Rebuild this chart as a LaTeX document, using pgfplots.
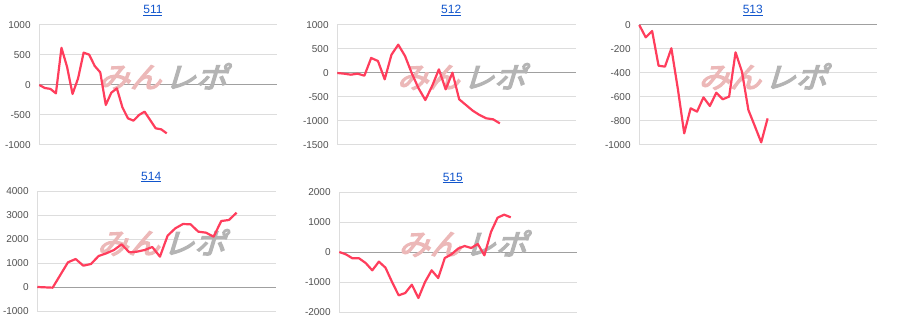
\documentclass[border=0pt]{standalone}
\usepackage{pgfplots}
\pgfplotsset{compat=1.18}
\usepackage{fontspec}
\setmainfont{Liberation Sans}
\newfontfamily\cjk[FakeBold=4.5,FakeSlant=0.28]{Noto Sans CJK JP}
\definecolor{linecol}{RGB}{255,61,92}
\definecolor{gridcol}{RGB}{221,221,221}
\definecolor{basecol}{RGB}{160,160,160}
\definecolor{tickcol}{RGB}{80,80,80}
\definecolor{titlecol}{RGB}{17,85,204}
\definecolor{logopink}{RGB}{236,184,184}
\definecolor{logogray}{RGB}{180,180,180}
\newcommand{\ttl}[1]{\underline{\hbox{#1}}}
\pgfplotsset{
  every axis title/.style={at={(rel axis cs:0.478,1)}, anchor=base, yshift=11bp, inner sep=0pt,
      font=\fontsize{12bp}{14bp}\selectfont, text=titlecol},
  panel/.style={
    scale only axis, anchor=south west, clip=false,
    axis x line=none, axis y line*=left,
    y axis line style={draw=gridcol, line width=1bp},
    ymajorgrids, grid style={draw=gridcol, line width=1bp},
    major tick length=0pt,
    xmin=0,
    scaled y ticks=false,
    yticklabel style={font=\fontsize{10bp}{12bp}\selectfont, text=tickcol, inner sep=0pt, xshift=-8.5bp},
    /pgf/number format/assume math mode=true,
    /pgf/number format/1000 sep={},
    extra y ticks={0}, extra y tick labels={},
    extra y tick style={major grid style={draw=basecol, line width=1bp}},
  },
  ser/.style={line width=2.2bp, color=linecol, mark=none, line join=round},
}
\newcommand{\logo}{\node[xscale=1.08, inner sep=0pt] at (rel axis cs:0.52,0.571)
  {\cjk\fontsize{29bp}{30bp}\selectfont\textcolor{logopink}{みん}\hspace{3bp}\textcolor{logogray}{レポ}};}
\begin{document}
\begin{tikzpicture}
\useasboundingbox (0bp,0bp) rectangle (900bp,332bp);
% 511
\begin{axis}[panel, at={(39.3bp,187bp)}, width=237.7bp, height=120bp,
  xmax=42.9, ymin=-1000, ymax=1000, ytick={-1000,-500,0,500,1000},
  title={\ttl{511}}]
\logo
\addplot[ser] coordinates {(0,0) (1,-50) (2,-65) (3,-139) (4,620) (5,306) (6,-150) (7,111) (8,539) (9,506) (10,317) (11,211) (12,-333) (13,-128) (14,-56) (15,-372) (16,-556) (17,-594) (18,-500) (19,-444) (20,-583) (21,-722) (22,-739) (23,-806)};
\end{axis}
% 512
\begin{axis}[panel, at={(337.3bp,187bp)}, width=238.4bp, height=120bp,
  xmax=35.2, ymin=-1500, ymax=1000, ytick={-1500,-1000,-500,0,500,1000},
  title={\ttl{512}}]
\logo
\addplot[ser] coordinates {(0,0) (1,-14) (2,-35) (3,-14) (4,-56) (5,313) (6,250) (7,-132) (8,382) (9,590) (10,354) (11,-7) (12,-320) (13,-563) (14,-271) (15,76) (16,-340) (17,7) (18,-549) (19,-667) (20,-785) (21,-875) (22,-944) (23,-965) (24,-1049)};
\end{axis}
% 513
\begin{axis}[panel, at={(639.3bp,187bp)}, width=237.4bp, height=120bp,
  xmax=37.0, ymin=-1000, ymax=0, ytick={-1000,-800,-600,-400,-200,0},
  title={\ttl{513}}]
\logo
\addplot[ser] coordinates {(0,0) (1,-103) (2,-50) (3,-339) (4,-347) (5,-194) (6,-530) (7,-903) (8,-694) (9,-722) (10,-603) (11,-675) (12,-564) (13,-619) (14,-597) (15,-228) (16,-389) (17,-708) (18,-842) (19,-978) (20,-778)};
\end{axis}
% 514
\begin{axis}[panel, at={(37.3bp,21bp)}, width=238.4bp, height=120bp,
  xmax=31.1, ymin=-1000, ymax=4000, ytick={-1000,0,1000,2000,3000,4000},
  title={\ttl{514}}]
\logo
\addplot[ser] coordinates {(0,0) (1,-14) (2,-28) (3,500) (4,1028) (5,1167) (6,889) (7,958) (8,1292) (9,1403) (10,1542) (11,1778) (12,1444) (13,1472) (14,1542) (15,1667) (16,1264) (17,2139) (18,2444) (19,2625) (20,2611) (21,2306) (22,2264) (23,2097) (24,2750) (25,2792) (26,3097)};
\end{axis}
% 515
\begin{axis}[panel, at={(339.3bp,20bp)}, width=237.4bp, height=120bp,
  xmax=36.0, ymin=-2000, ymax=2000, ytick={-2000,-1000,0,1000,2000},
  title={\ttl{515}}]
\logo
\addplot[ser] coordinates {(0,0) (1,-78) (2,-211) (3,-211) (4,-367) (5,-611) (6,-322) (7,-522) (8,-1000) (9,-1444) (10,-1367) (11,-1089) (12,-1533) (13,-1000) (14,-611) (15,-867) (16,-200) (17,-78) (18,111) (19,200) (20,133) (21,267) (22,-111) (23,667) (24,1144) (25,1244) (26,1156)};
\end{axis}
\end{tikzpicture}
\end{document}
